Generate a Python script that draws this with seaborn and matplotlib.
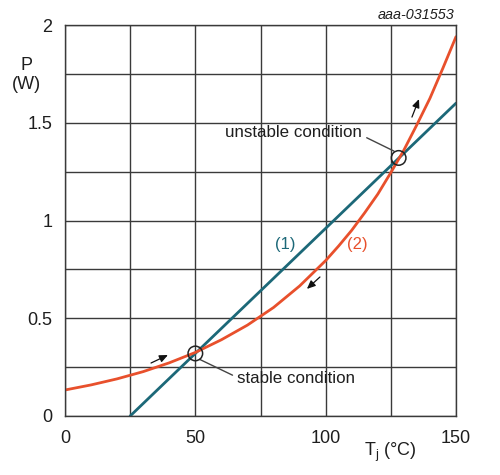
import matplotlib
matplotlib.use("Agg")
import matplotlib.pyplot as plt
import seaborn as sns
import pandas as pd

# Line (1): thermal resistance line
t_line = [25, 150]
p_line = [0.0, 1.60]

# Curve (2): power dissipation vs junction temperature
t_curve = [0, 10, 20, 30, 40, 50, 60, 70, 80, 90, 100, 105, 110, 115, 120,
           125, 130, 135, 140, 145, 150]
p_curve = [0.133, 0.159, 0.190, 0.227, 0.272, 0.325, 0.39, 0.465, 0.555, 0.665,
           0.795, 0.87, 0.95, 1.04, 1.135, 1.245, 1.36, 1.49, 1.625, 1.78, 1.94]

# Operating points
op_t = [50, 128]
op_p = [0.32, 1.32]

x_ticks = [0, 25, 50, 75, 100, 125, 150]
x_labels = ["0", "", "50", "", "100", "", "150"]
y_ticks = [0, 0.25, 0.5, 0.75, 1.0, 1.25, 1.5, 1.75, 2.0]
y_labels = ["0", "", "0.5", "", "1", "", "1.5", "", "2"]

TEAL = "#1c6878"
RED = "#e8502c"
GRID = "#3a3a3a"
TXT = "#1e1e1e"

sns.set_style("white")
plt.rcParams["font.family"] = ["Liberation Sans", "DejaVu Sans"]

fig = plt.figure(figsize=(5.0, 4.75), dpi=100)
ax = fig.add_axes([65 / 500, 59 / 475, 391 / 500, 391 / 475])

df_line = pd.DataFrame({"T": t_line, "P": p_line})
df_curve = pd.DataFrame({"T": t_curve, "P": p_curve})
sns.lineplot(data=df_line, x="T", y="P", ax=ax, color=TEAL, lw=2.0)
sns.lineplot(data=df_curve, x="T", y="P", ax=ax, color=RED, lw=2.0)

ax.set_xlim(0, 150)
ax.set_ylim(0, 2)
ax.set_xticks(x_ticks)
ax.set_xticklabels(x_labels)
ax.set_yticks(y_ticks)
ax.set_yticklabels(y_labels)
ax.tick_params(length=0, labelsize=13, colors=TXT)
ax.tick_params(axis="y", pad=9)
ax.tick_params(axis="x", pad=10)
ax.grid(True, color=GRID, lw=1.0)
for s in ax.spines.values():
    s.set_color(GRID)
    s.set_linewidth(1.0)
ax.set_xlabel("")
ax.set_ylabel("")

# Operating-point circles
ax.scatter(op_t, op_p, s=110, facecolors="none", edgecolors="#222222", linewidths=1.1, zorder=5)

# Annotations
ax.annotate("unstable condition", xy=(op_t[1] - 1.8, op_p[1] + 0.035),
            xytext=(61.5, 1.45), fontsize=12.2, color=TXT, va="center", ha="left",
            arrowprops=dict(arrowstyle="-", color="#444444", lw=1.0,
                            shrinkA=1, shrinkB=0, relpos=(1.0, 0.3)))
ax.annotate("stable condition", xy=(op_t[0] + 1.6, op_p[0] - 0.03),
            xytext=(66, 0.19), fontsize=12.2, color=TXT, va="center", ha="left",
            arrowprops=dict(arrowstyle="-", color="#444444", lw=1.0,
                            shrinkA=1, shrinkB=0, relpos=(0.0, 0.6)))

# Curve labels
ax.text(84.5, 0.875, "(1)", color=TEAL, fontsize=12, ha="center", va="center")
ax.text(112, 0.875, "(2)", color=RED, fontsize=12, ha="center", va="center")

# Direction arrows
for (x0, y0), (x1, y1) in [((33.0, 0.271), (39.5, 0.312)),
                           ((97.8, 0.711), (92.8, 0.650)),
                           ((133.1, 1.529), (135.8, 1.621))]:
    ax.annotate("", xy=(x1, y1), xytext=(x0, y0),
                arrowprops=dict(arrowstyle="-|>,head_length=0.5,head_width=0.22",
                                color="#111111", lw=0.9, shrinkA=0, shrinkB=0))

# Axis titles
fig.text(26 / 500, 1 - 75 / 475, "P\n(W)", fontsize=13, color=TXT,
         ha="center", va="center", linespacing=1.2)
fig.text(390 / 500, 1 - 452 / 475, r"T$_\mathregular{j}$ (°C)", fontsize=13, color=TXT,
         ha="center", va="center")
fig.text(454 / 500, 1 - 15 / 475, "aaa-031553", fontsize=10.4, color=TXT,
         ha="right", va="center", style="italic")

fig.savefig("out.png", dpi=100)
